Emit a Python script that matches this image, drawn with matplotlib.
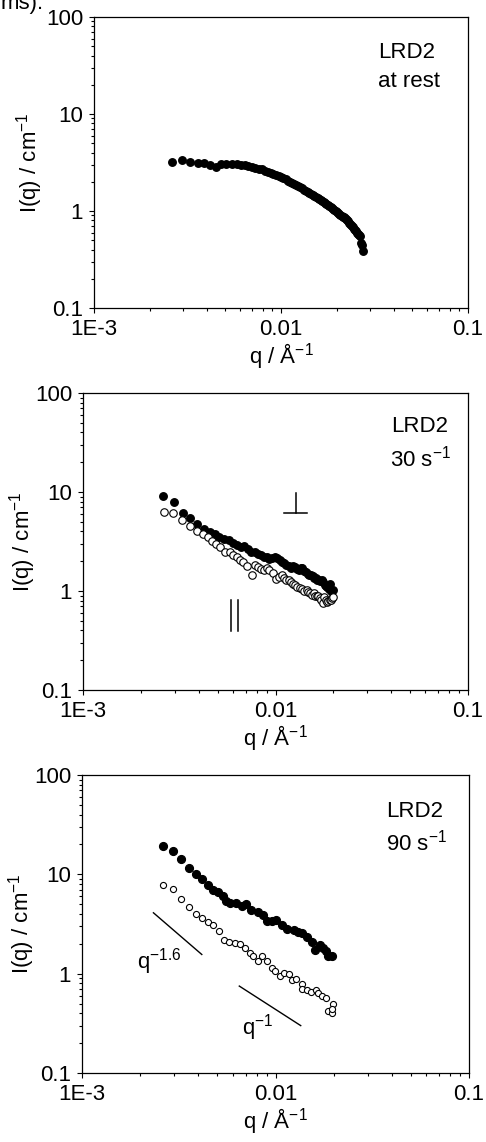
import matplotlib
matplotlib.use('Agg')
import matplotlib.pyplot as plt

plt.rcParams['font.family'] = ['Liberation Sans', 'DejaVu Sans']
plt.rcParams['mathtext.default'] = 'regular'
plt.rcParams['font.size'] = 16

# ---- data ----
# panel 1: at rest
rest_q = [0.00261, 0.00295, 0.00326, 0.0036, 0.00387, 0.00417, 0.0045, 0.0048, 0.0051, 0.00545,
          0.0058, 0.0061, 0.0064, 0.0067, 0.0070, 0.0073, 0.0076, 0.0079, 0.0082, 0.0085,
          0.0088, 0.0091, 0.0094, 0.0097, 0.0100, 0.0103, 0.0106, 0.0109, 0.0112, 0.0115,
          0.0118, 0.0121, 0.0124, 0.0127, 0.0130, 0.0133, 0.0136, 0.0139, 0.0142, 0.0145,
          0.0148, 0.0151, 0.0154, 0.0157, 0.0160, 0.0163, 0.0166, 0.0169, 0.0172, 0.0175,
          0.0178, 0.0181, 0.0184, 0.0187, 0.0190, 0.0193, 0.0196, 0.0199, 0.0202, 0.0205,
          0.0208, 0.0211, 0.0214, 0.0217, 0.0220, 0.0223, 0.0226, 0.0229, 0.0232, 0.0235,
          0.0238, 0.0241, 0.0244, 0.0247, 0.0250, 0.0253, 0.0256, 0.0259, 0.0262, 0.0265,
          0.0268, 0.0271, 0.0274]
rest_I = [3.2, 3.36, 3.2, 3.1, 3.1, 3.0, 2.85, 3.05, 3.05, 3.05,
          3.02, 3.0, 2.95, 2.88, 2.82, 2.80, 2.72, 2.68, 2.60, 2.52,
          2.46, 2.40, 2.35, 2.30, 2.24, 2.18, 2.12, 2.06, 2.00, 1.95,
          1.90, 1.85, 1.80, 1.76, 1.71, 1.66, 1.62, 1.58, 1.54, 1.50,
          1.46, 1.43, 1.40, 1.36, 1.33, 1.30, 1.27, 1.24, 1.21, 1.18,
          1.15, 1.13, 1.10, 1.08, 1.05, 1.02, 1.00, 0.97, 0.95, 0.93,
          0.91, 0.89, 0.87, 0.86, 0.84, 0.82, 0.80, 0.78, 0.76, 0.74,
          0.72, 0.70, 0.68, 0.66, 0.64, 0.62, 0.60, 0.58, 0.57, 0.55,
          0.47, 0.45, 0.39]

# panel 2: 30 s-1, perpendicular (filled) and parallel (open)
s30_perp_q = [0.00261, 0.00297, 0.00329, 0.0036, 0.00393, 0.00425, 0.00455, 0.00485, 0.0051, 0.0054,
              0.0057, 0.006, 0.0063, 0.0066, 0.0069, 0.0072, 0.0075, 0.0078, 0.0081, 0.0084,
              0.0087, 0.009, 0.0093, 0.0096, 0.0099, 0.0102, 0.0105, 0.0108, 0.0111, 0.0114,
              0.0117, 0.012, 0.0123, 0.0126, 0.0129, 0.0132, 0.0135, 0.0138, 0.0141, 0.0144,
              0.0147, 0.015, 0.0153, 0.0156, 0.0159, 0.0162, 0.0165, 0.0168, 0.0171, 0.0174,
              0.0177, 0.018, 0.0183, 0.0186, 0.0189, 0.0192, 0.0195, 0.0198]
s30_perp_I = [9.1, 7.9, 6.2, 5.5, 4.7, 4.2, 3.9, 3.75, 3.55, 3.35,
              3.25, 3.05, 2.9, 2.8, 2.85, 2.65, 2.5, 2.45, 2.35, 2.3,
              2.2, 2.18, 2.1, 2.15, 2.18, 2.15, 2.05, 1.95, 1.9, 1.85,
              1.78, 1.72, 1.78, 1.75, 1.68, 1.62, 1.72, 1.70, 1.6, 1.55,
              1.5, 1.45, 1.45, 1.42, 1.35, 1.35, 1.3, 1.28, 1.25, 1.3,
              1.22, 1.15, 1.12, 1.1, 1.05, 1.18, 1.0, 1.02]
s30_par_q = [0.00263, 0.00295, 0.00328, 0.0036, 0.00393, 0.00421, 0.00448, 0.0047, 0.00493, 0.00515,
             0.00546, 0.0058, 0.00605, 0.0063, 0.00656, 0.0068, 0.0071, 0.00757, 0.0078, 0.0081,
             0.0084, 0.0087, 0.009, 0.0093, 0.00974, 0.0101, 0.0104, 0.0108, 0.0111, 0.0114,
             0.0117, 0.012, 0.0124, 0.0127, 0.013, 0.0134, 0.0137, 0.014, 0.0145, 0.0148,
             0.0151, 0.0155, 0.0158, 0.0161, 0.0164, 0.0167, 0.017, 0.0173, 0.0176, 0.0179,
             0.0182, 0.0185, 0.0188, 0.0191, 0.0194, 0.0197, 0.0199]
s30_par_I = [6.3, 6.2, 5.2, 4.55, 4.05, 3.8, 3.5, 3.23, 3.0, 2.8,
             2.45, 2.45, 2.33, 2.2, 2.08, 1.95, 1.80, 1.46, 1.83, 1.75,
             1.68, 1.62, 1.70, 1.62, 1.51, 1.33, 1.4, 1.45, 1.35, 1.3,
             1.3, 1.22, 1.18, 1.15, 1.1, 1.07, 1.05, 1.0, 1.03, 0.98,
             0.95, 0.92, 0.96, 0.9, 0.88, 0.89, 0.84, 0.82, 0.75, 0.86,
             0.81, 0.78, 0.8, 0.81, 0.82, 0.84, 0.86]

# panel 3: 90 s-1
s90_perp_q = [0.00263, 0.00294, 0.00325, 0.00359, 0.00387, 0.00415, 0.0045, 0.00476, 0.00505, 0.00533,
              0.00554, 0.00581, 0.00628, 0.0067, 0.0070, 0.0075, 0.00816, 0.00866, 0.0090, 0.00955,
              0.0101, 0.0108, 0.0114, 0.0124, 0.0131, 0.0137, 0.0145, 0.0154, 0.016, 0.017,
              0.0176, 0.0183, 0.0187, 0.0195]
s90_perp_I = [19.4, 17.3, 14.3, 11.5, 10.0, 9.0, 7.8, 7.03, 6.6, 6.1,
              5.4, 5.15, 5.1, 4.8, 5.0, 4.4, 4.2, 3.9, 3.4, 3.4,
              3.5, 3.1, 2.83, 2.75, 2.6, 2.55, 2.35, 2.1, 1.75, 1.95,
              1.80, 1.70, 1.50, 1.50]
s90_par_q = [0.00263, 0.00294, 0.00325, 0.00357, 0.00388, 0.00415, 0.0045, 0.00476, 0.0051, 0.00541,
             0.00577, 0.00617, 0.00655, 0.00696, 0.00734, 0.00767, 0.00816, 0.00855, 0.0090, 0.00955,
             0.00994, 0.0106, 0.011, 0.0117, 0.0121, 0.0128, 0.0137, 0.0137, 0.0145, 0.0153,
             0.0162, 0.0166, 0.0173, 0.0183, 0.0187, 0.0195, 0.0199, 0.0195]
s90_par_I = [7.9, 7.1, 5.6, 4.65, 3.96, 3.65, 3.3, 3.1, 2.7, 2.2,
             2.1, 2.05, 2.0, 1.82, 1.63, 1.49, 1.33, 1.49, 1.33, 1.15,
             1.06, 0.95, 1.02, 1.0, 0.86, 0.89, 0.78, 0.70, 0.69, 0.66,
             0.69, 0.64, 0.59, 0.57, 0.42, 0.40, 0.49, 0.44]

# power-law guide lines (end points)
guide16_q = [0.00234, 0.00416]
guide16_I = [4.1, 1.56]
guide1_q = [0.0065, 0.0135]
guide1_I = [0.75, 0.30]

xticks = [1e-3, 1e-2, 1e-1]
xticklabels = ['1E-3', '0.01', '0.1']
yticks = [0.1, 1, 10, 100]
yticklabels = ['0.1', '1', '10', '100']

W, H = 486, 1142
FS = 16
fig = plt.figure(figsize=(W / 100, H / 100), dpi=100)


def make_axes(l, r, t, b, ylabelpad):
    # pixel box -> figure fraction
    ax = fig.add_axes([l / W, 1 - b / H, (r - l) / W, (b - t) / H])
    ax.set_xscale('log')
    ax.set_yscale('log')
    ax.set_xlim(1e-3, 1e-1)
    ax.set_ylim(0.1, 100)
    ax.set_xticks(xticks)
    ax.set_xticklabels(xticklabels)
    ax.set_yticks(yticks)
    ax.set_yticklabels(yticklabels)
    ax.tick_params(which='both', direction='out', top=False, right=False, width=0.8)
    ax.tick_params(which='major', length=3.8, pad=4, labelsize=FS)
    ax.tick_params(which='minor', length=2.2)
    for s in ax.spines.values():
        s.set_linewidth(0.9)
    ax.set_xlabel('q / Å$^{-1}$', fontsize=FS, labelpad=1)
    ax.set_ylabel('I(q) / cm$^{-1}$', fontsize=FS, labelpad=ylabelpad)
    return ax


fig.text(0.002, 1 - 9 / H, 'ms):', fontsize=FS, va='baseline')

# panel 1
ax1 = make_axes(94, 468, 17, 308, 1)
ax1.plot(rest_q, rest_I, 'o', color='black', ms=5.4, mec='black')
ax1.text(0.76, 0.86, 'LRD2', transform=ax1.transAxes, fontsize=FS)
ax1.text(0.76, 0.76, 'at rest', transform=ax1.transAxes, fontsize=FS)

# panel 2
ax2 = make_axes(83, 468, 393, 690, -2)
ax2.plot(s30_perp_q, s30_perp_I, 'o', color='black', ms=5.4, mec='black')
ax2.plot(s30_par_q, s30_par_I, 'o', mfc='white', mec='black', ms=5.4, mew=0.8)
ax2.text(0.80, 0.87, 'LRD2', transform=ax2.transAxes, fontsize=FS)
ax2.text(0.797, 0.751, '30 s$^{-1}$', transform=ax2.transAxes, fontsize=FS)
# perpendicular / parallel symbols
ax2.plot([0.552, 0.552], [0.595, 0.664], color='black', lw=1.1, transform=ax2.transAxes)
ax2.plot([0.522, 0.583], [0.595, 0.595], color='black', lw=1.1, transform=ax2.transAxes)
ax2.plot([0.384, 0.384], [0.200, 0.303], color='black', lw=1.1, transform=ax2.transAxes)
ax2.plot([0.403, 0.403], [0.200, 0.303], color='black', lw=1.1, transform=ax2.transAxes)

# panel 3
ax3 = make_axes(82, 469, 775, 1073, -2)
ax3.plot(s90_perp_q, s90_perp_I, 'o', color='black', ms=5.6, mec='black')
ax3.plot(s90_par_q, s90_par_I, 'o', mfc='white', mec='black', ms=4.4, mew=0.8)
ax3.plot(guide16_q, guide16_I, color='black', lw=1.0)
ax3.plot(guide1_q, guide1_I, color='black', lw=1.0)
ax3.text(0.787, 0.86, 'LRD2', transform=ax3.transAxes, fontsize=FS)
ax3.text(0.786, 0.746, '90 s$^{-1}$', transform=ax3.transAxes, fontsize=FS)
ax3.text(0.142, 0.352, 'q$^{-1.6}$', transform=ax3.transAxes, fontsize=FS)
ax3.text(0.413, 0.128, 'q$^{-1}$', transform=ax3.transAxes, fontsize=FS)

fig.savefig('out.png', dpi=100)
